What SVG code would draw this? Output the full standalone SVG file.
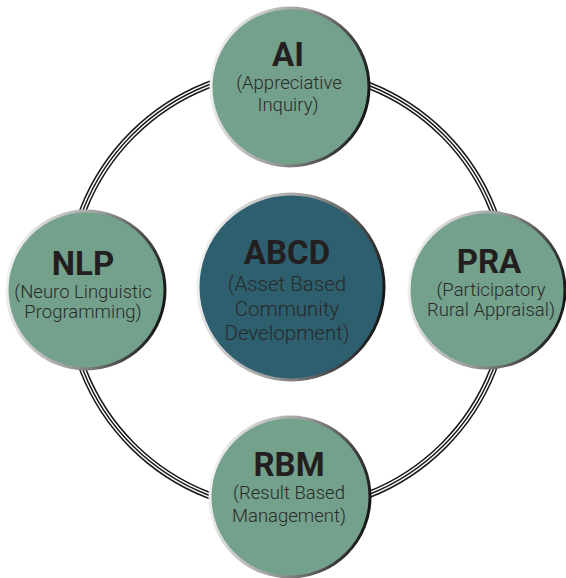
<svg xmlns="http://www.w3.org/2000/svg" width="566" height="578" viewBox="0 0 566 578">
<defs>
<linearGradient id="edge" x1="0" y1="0.4" x2="1" y2="0.6">
<stop offset="0" stop-color="#f2f2f2"/>
<stop offset="0.5" stop-color="#9a9a9a"/>
<stop offset="1" stop-color="#151515"/>
</linearGradient>
</defs>
<style>
.node{fill:#73a18c;stroke:url(#edge);stroke-width:3}
.core{fill:#2d5f6e;stroke:url(#edge);stroke-width:3}
.t{font-family:Roboto,"Liberation Sans",sans-serif;font-weight:700;font-size:33px;fill:#231f20;text-anchor:middle}
.s{font-family:Roboto,"Liberation Sans",sans-serif;font-weight:300;font-size:18.5px;fill:#2a2a2a;text-anchor:middle}
.sc{font-size:20.5px}
</style>
<rect width="566" height="578" fill="#ffffff"/>
<g id="connectors" fill="none">
<circle cx="288" cy="290" r="220" stroke="#1a1a1a" stroke-width="7.4"/>
<circle cx="288" cy="290" r="220" stroke="#fff" stroke-width="4.4"/>
<circle cx="288" cy="290" r="220" stroke="#1a1a1a" stroke-width="1.5"/>
</g>
<g id="ai">
<circle class="node" cx="290" cy="87" r="79"/>
<text class="t" x="288" y="66">AI</text>
<text class="s" x="289" y="89">(Appreciative</text>
<text class="s" x="288" y="111">Inquiry)</text>
</g>
<g id="nlp">
<circle class="node" cx="86" cy="290" r="79"/>
<text class="t" x="83" y="275">NLP</text>
<text class="s" x="83" y="298">(Neuro Linguistic</text>
<text class="s" x="83" y="318">Programming)</text>
</g>
<g id="pra">
<circle class="node" cx="487" cy="290" r="78"/>
<text class="t" x="489" y="273">PRA</text>
<text class="s" x="491" y="296">(Participatory</text>
<text class="s" x="491" y="316">Rural Appraisal)</text>
</g>
<g id="rbm">
<circle class="node" cx="290" cy="497" r="80"/>
<text class="t" x="289" y="476">RBM</text>
<text class="s" x="289" y="499">(Result Based</text>
<text class="s" x="289" y="522">Management)</text>
</g>
<g id="abcd">
<circle class="core" cx="291" cy="287" r="93"/>
<text class="t" x="287" y="264">ABCD</text>
<text class="s sc" x="287" y="291">(Asset Based</text>
<text class="s sc" x="287" y="316">Community</text>
<text class="s sc" x="287" y="340">Development)</text>
</g>
</svg>
